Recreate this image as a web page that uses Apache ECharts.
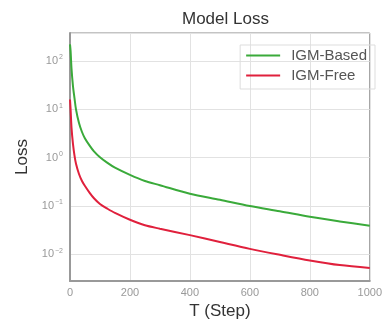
<!DOCTYPE html>
<html>
<head>
<meta charset="utf-8">
<script src="https://cdn.jsdelivr.net/npm/echarts@6/dist/echarts.min.js"></script>
<style>
html, body {margin: 0; padding: 0; background: #fff;}
#box {width: 385px; height: 325px;}
</style>
</head>
<body>
<div id="box"></div>
<script>
var myChart = echarts.init(document.getElementById('box')) //获取装载数据表的容器

// 训练步数
var steps = [0, 2, 5, 10, 15, 20, 30, 40, 50, 65, 80, 100, 125, 150, 200, 250, 300, 400, 500, 600, 700, 800, 900, 1000];
// 两条曲线的 loss
var igmBased = [220, 160, 70, 30, 17, 10, 5.2, 3.4, 2.5, 1.8, 1.35, 1.02, 0.78, 0.62, 0.44, 0.33, 0.27, 0.18, 0.135, 0.10, 0.078, 0.06, 0.048, 0.039];
var igmFree = [16, 10, 4.2, 1.9, 1.1, 0.75, 0.46, 0.33, 0.26, 0.19, 0.145, 0.11, 0.088, 0.072, 0.052, 0.04, 0.034, 0.025, 0.018, 0.013, 0.0098, 0.0075, 0.006, 0.0052];
var xTicks = [0, 200, 400, 600, 800, 1000];

function pairs(ys) {
    return steps.map(function (s, i) { return [s, ys[i]]; });
}

var font = 'Liberation Sans, Arial, sans-serif';

option = {
    animation: false,
    title: {
        text: 'Model Loss',
        left: 182,
        top: 11,
        padding: 0,
        textStyle: {
            fontSize: 17,
            fontWeight: 'normal',
            color: '#333',
            fontFamily: font
        }
    },
    legend: {
        orient: 'vertical',
        right: 10,
        top: 45,
        padding: [3, 8, 6, 6],
        icon: 'rect',
        itemWidth: 34,
        itemHeight: 2,
        itemGap: 5,
        borderColor: '#ddd',
        borderWidth: 1,
        data: ['IGM-Based', 'IGM-Free'],
        textStyle: {
            fontSize: 15,
            color: '#555',
            fontFamily: font,
            padding: [0, 0, 0, 6]
        }
    },
    grid: {
        left: 70,
        right: 3,
        top: 33,
        bottom: 33,
        show: true,
        borderColor: '#888',
        borderWidth: 1
    },
    xAxis: {
        type: 'value',
        min: xTicks[0],
        max: xTicks[xTicks.length - 1],
        interval: 200,
        name: 'T (Step)',
        nameLocation: 'middle',
        nameGap: 18,
        nameTextStyle: {
            fontSize: 17,
            color: '#333',
            fontFamily: font
        },
        axisLine: {lineStyle: {color: '#999', width: 2}},
        axisTick: {show: false},
        axisLabel: {
            fontSize: 11,
            color: '#999',
            margin: 6,
            fontFamily: font,
            alignMaxLabel: 'center',
            formatter: function (v) { return String(v); }
        },
        splitLine: {lineStyle: {color: '#e2e2e2', width: 1}}
    },
    yAxis: {
        type: 'log',
        logBase: 10,
        min: 0.0028,
        max: 380,
        name: 'Loss',
        nameLocation: 'middle',
        nameGap: 34,
        nameTextStyle: {
            fontSize: 17,
            color: '#333',
            fontFamily: font
        },
        axisLine: {show: true, lineStyle: {color: '#999', width: 2}},
        axisTick: {show: false},
        axisLabel: {
            margin: 7,
            color: '#999',
            fontSize: 11,
            fontFamily: font,
            showMinLabel: false,
            showMaxLabel: false,
            formatter: function (v) {
                var lg = Math.log10(v);
                var e = Math.round(lg);
                if (Math.abs(lg - e) > 1e-6) return '';
                return '10{s|' + (e < 0 ? '\u2212' + (-e) : e) + '}';
            },
            rich: {
                s: {fontSize: 7, color: '#999', verticalAlign: 'top', padding: [0, 0, 7, 1]}
            }
        },
        splitLine: {lineStyle: {color: '#e2e2e2', width: 1}}
    },
    series: [{
        name: 'IGM-Based',
        type: 'line',
        data: pairs(igmBased),
        smooth: 0.3,
        symbol: 'none',
        lineStyle: {color: '#3aaa3a', width: 2},
        itemStyle: {color: '#3aaa3a'}
    }, {
        name: 'IGM-Free',
        type: 'line',
        data: pairs(igmFree),
        smooth: 0.3,
        symbol: 'none',
        lineStyle: {color: '#e0203c', width: 2},
        itemStyle: {color: '#e0203c'}
    }]
};

myChart.setOption(option)
</script>
</body>
</html>
